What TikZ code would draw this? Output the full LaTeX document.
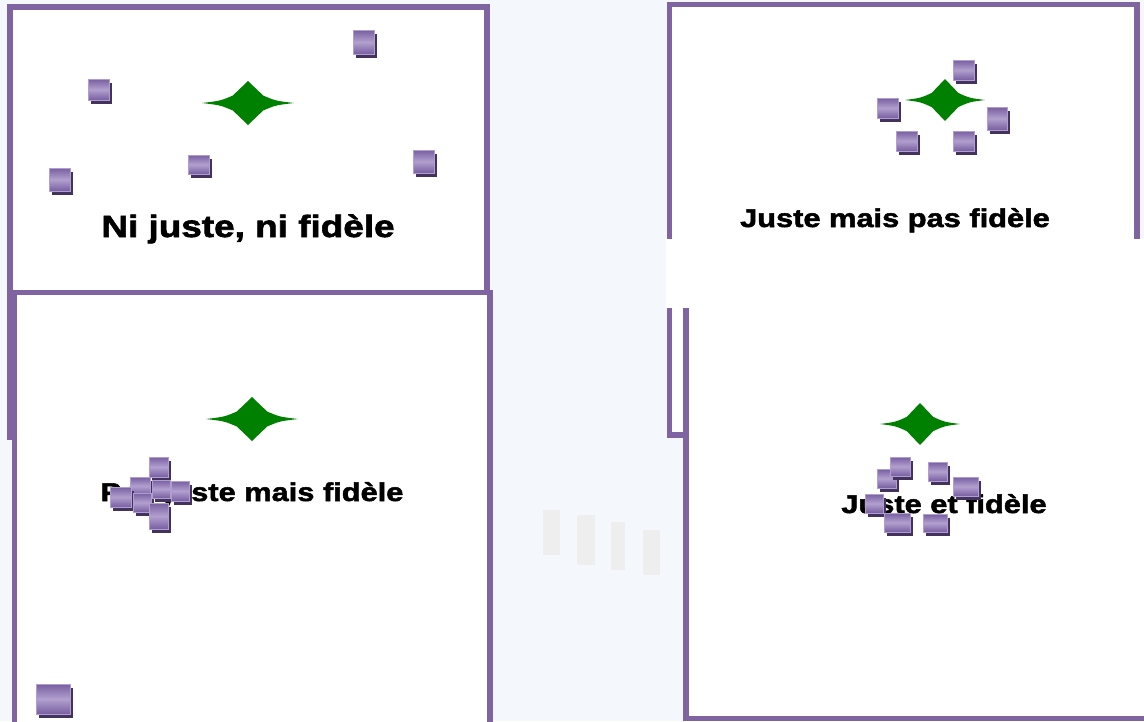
\documentclass[tikz,border=0pt]{standalone}
\usepackage{fontspec}
\usepackage{xcolor}
\usepackage{tikz}
\newfontfamily\etiqfont[FakeStretch=1.2, BoldFeatures={FakeBold=2}]{Liberation Sans}
\definecolor{cadreviolet}{RGB}{128,100,162}
\definecolor{cibleverte}{RGB}{0,128,0}
\definecolor{impacthaut}{RGB}{120,94,160}
\definecolor{impactmilieu}{RGB}{178,160,206}
\definecolor{impactbord}{RGB}{176,158,210}
\definecolor{impactombre}{RGB}{66,50,92}
\definecolor{fond}{RGB}{244,247,251}

\begin{document}
\begin{tikzpicture}[x=0.02cm, y=-0.02cm,
  cadre/.style={draw=cadreviolet, line width=3.4pt, fill=white},
  impact/.style={draw=impactbord, line width=0.5pt,
    top color=impacthaut, bottom color=impacthaut, middle color=impactmilieu},
  ombre/.style={fill=impactombre},
  etiq/.style={anchor=base, inner sep=0pt, text=black},
  grand/.style={etiq, font=\etiqfont\bfseries\fontsize{17.5}{20}\selectfont},
  petit/.style={etiq, font=\etiqfont\bfseries\fontsize{14.6}{17}\selectfont},
  etoile/.pic={\fill[cibleverte] (-1,0) .. controls (-0.6,-0.1) .. (-0.33,-0.34)
    -- (0,-1) -- (0.33,-0.34) .. controls (0.6,-0.1) .. (1,0)
    .. controls (0.6,0.1) .. (0.33,0.34) -- (0,1) -- (-0.33,0.34)
    .. controls (-0.6,0.1) .. cycle;}]
  \useasboundingbox (0,0) rectangle (1144,721);
  \fill[fond] (0,0) rectangle (1144,721);
  % faint building behind
  \fill[gray!13] (543,510) rectangle (560,555);
  \fill[gray!13] (577,515) rectangle (595,565);
  \fill[gray!13] (611,522) rectangle (625,570);
  \fill[gray!13] (643,530) rectangle (660,575);
  % Ni juste, ni fidele
  \draw[cadre] (10,7) rectangle (487,437);
  \pic[xscale=46, yscale=22] at (248,103) {etoile};
  \foreach \x/\y/\w/\h in {88/79/21/21, 353/30/21/24, 49/168/21/23, 188/155/21/19, 413/150/21/23}{
    \fill[ombre] (\x+3,\y+4) rectangle ++(\w,\h);
    \shade[impact] (\x,\y) rectangle ++(\w,\h);}
  \node[grand] (nijnf) at (248,237) {Ni juste, ni fidèle};
  % Pas juste mais fidele
  \draw[cadre] (14.5,292.5) rectangle (490,760);
  \pic[xscale=46, yscale=22] at (252,419) {etoile};
  \node[petit] (pjmf) at (252,501) {Pas juste mais fidèle};
  \foreach \x/\y/\w/\h in {130/477/20/18, 110/487/21/20, 133/493/18/19, 149/457/19/20,
      149/503/19/26, 152/480/18/18, 171/481/18/20, 36/684/34/30}{
    \fill[ombre] (\x+3,\y+4) rectangle ++(\w,\h);
    \shade[impact] (\x,\y) rectangle ++(\w,\h);}
  % Juste mais pas fidele
  \draw[cadre] (669.5,4.5) rectangle (1137,435);
  \pic[xscale=40, yscale=21] at (945,100) {etoile};
  \foreach \x/\y/\w/\h in {953/60/21/20, 877/98/21/20, 987/107/20/23, 896/131/21/20, 953/131/21/20}{
    \fill[ombre] (\x+3,\y+4) rectangle ++(\w,\h);
    \shade[impact] (\x,\y) rectangle ++(\w,\h);}
  \node[petit] (jmpf) at (895,227) {Juste mais pas fidèle};
  % Juste et fidele
  \draw[cadre] (686,250) rectangle (1170,718.5);
  \fill[white] (666,239) rectangle (1150,308);
  \pic[xscale=40, yscale=21] at (920,424) {etoile};
  \node[petit] (jef) at (944,513) {Juste et fidèle};
  \foreach \x/\y/\w/\h in {877/469/19/19, 890/457/20/19, 928/462/19/19, 953/477/25/19,
      865/494/18/19, 884/513/26/19, 923/514/24/18}{
    \fill[ombre] (\x+3,\y+4) rectangle ++(\w,\h);
    \shade[impact] (\x,\y) rectangle ++(\w,\h);}
\end{tikzpicture}
\end{document}
